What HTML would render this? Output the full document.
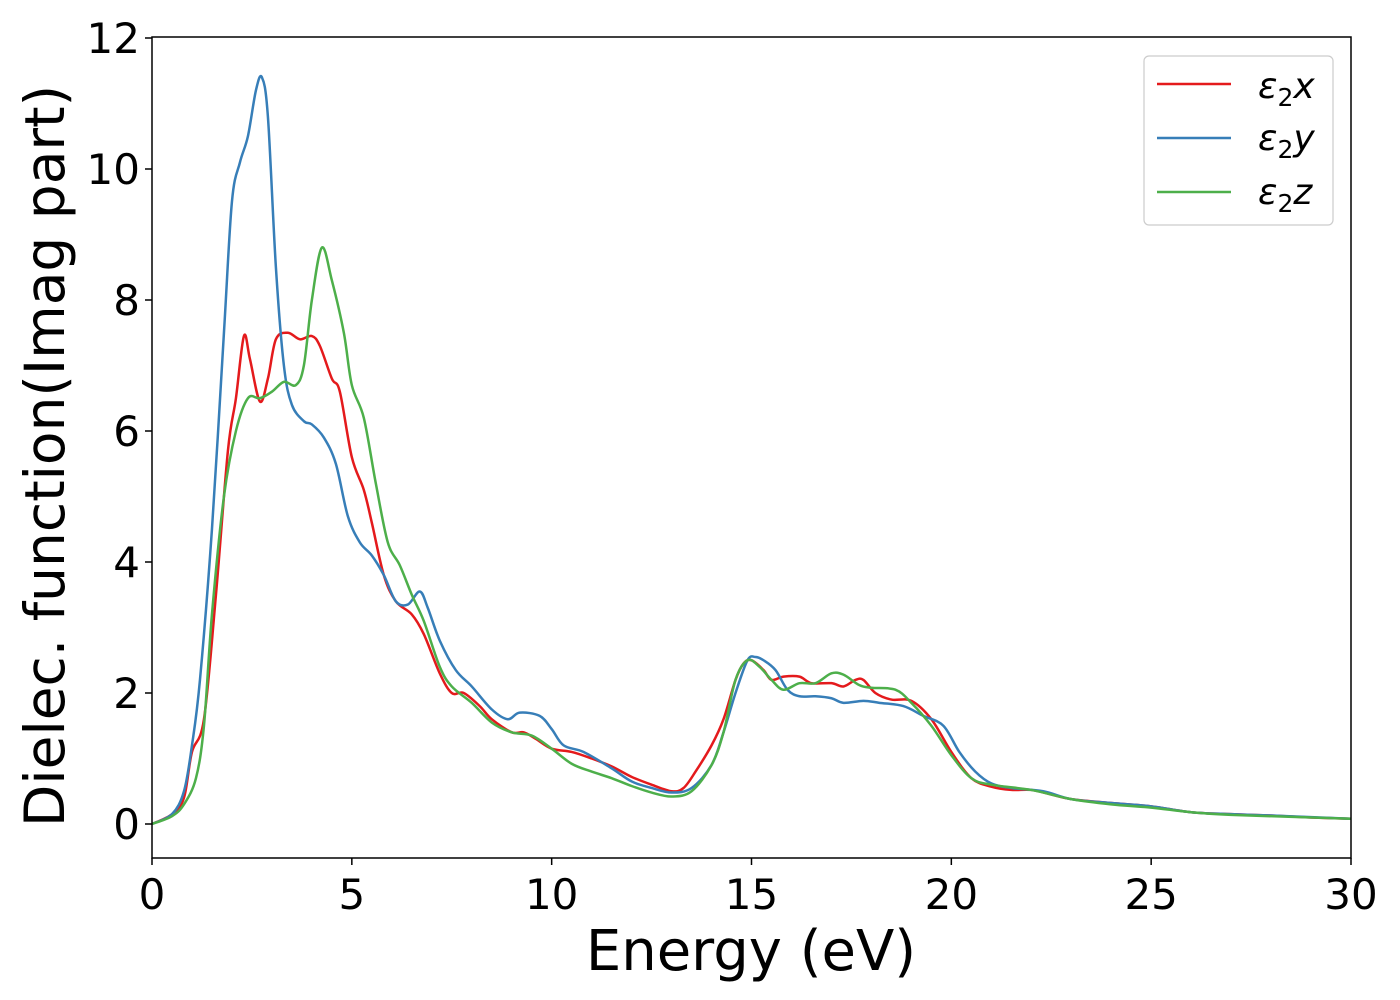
<!DOCTYPE html>
<html><head><meta charset="utf-8">
<style>
html,body{margin:0;padding:0;background:#fff;}
svg{display:block;font-family:"DejaVu Sans","Liberation Sans",sans-serif;}
</style></head>
<body>
<svg id="chart" width="1400" height="1000" viewBox="0 0 1400 1000">
<g id="series"></g>
<rect x="152" y="37" width="1199" height="821" fill="none" stroke="#000" stroke-width="1.5"/>
<g id="axes"></g>
<text x="751" y="970" font-size="56" text-anchor="middle">Energy (eV)</text>
<text transform="translate(64,456) rotate(-90)" font-size="55" text-anchor="middle">Dielec. function(Imag part)</text>
<g>
<rect x="1144" y="56" width="189" height="169" rx="5" fill="#fff" stroke="#ccc" stroke-width="1.2"/>
<line x1="1157" y1="84" x2="1231" y2="84" stroke="#e41a1c" stroke-width="2.5"/>
<text x="1258" y="98" font-size="36"><tspan font-style="italic">ε</tspan><tspan font-size="25" dy="8">2</tspan><tspan dy="-8" font-style="italic">x</tspan></text>
<line x1="1157" y1="138" x2="1231" y2="138" stroke="#377eb8" stroke-width="2.5"/>
<text x="1258" y="150" font-size="36"><tspan font-style="italic">ε</tspan><tspan font-size="25" dy="8">2</tspan><tspan dy="-8" font-style="italic">y</tspan></text>
<line x1="1157" y1="192" x2="1231" y2="192" stroke="#4daf4a" stroke-width="2.5"/>
<text x="1258" y="204" font-size="36"><tspan font-style="italic">ε</tspan><tspan font-size="25" dy="8">2</tspan><tspan dy="-8" font-style="italic">z</tspan></text>
</g>
</svg>
<script>
const xTicks=[0,5,10,15,20,25,30];
const yTicks=[0,2,4,6,8,10,12];
const xE=[0,0.5,0.8,1,1.3,1.6,1.9,2.1,2.3,2.45,2.7,2.9,3.1,3.4,3.7,4.0,4.2,4.5,4.7,5.0,5.3,5.5,5.8,6.1,6.5,6.8,7.2,7.5,7.8,8.2,8.5,9,9.3,9.6,10,10.5,11,11.5,12,12.5,13,13.3,13.6,14,14.3,14.6,14.8,15.0,15.3,15.5,15.8,16.2,16.5,17,17.3,17.6,17.8,18.1,18.5,19,19.5,20,20.5,21,21.5,22,22.5,23,24,25,26,27,28,29,30];
const xV=[0,0.15,0.4,1.1,1.6,3.5,5.7,6.5,7.45,7.1,6.45,6.8,7.4,7.5,7.4,7.45,7.3,6.8,6.6,5.6,5.1,4.6,3.8,3.4,3.2,2.9,2.3,2.0,2.0,1.8,1.6,1.4,1.4,1.3,1.15,1.1,1.0,0.88,0.72,0.6,0.5,0.55,0.8,1.2,1.6,2.2,2.45,2.5,2.35,2.2,2.25,2.25,2.15,2.15,2.1,2.2,2.2,2.0,1.9,1.88,1.6,1.1,0.7,0.57,0.52,0.52,0.45,0.38,0.32,0.27,0.18,0.15,0.13,0.1,0.08];
const yE=[0,0.5,0.8,1,1.2,1.5,1.8,2.0,2.2,2.4,2.6,2.75,2.9,3.1,3.3,3.5,3.8,4.0,4.3,4.6,4.9,5.2,5.5,5.8,6.1,6.4,6.7,6.9,7.2,7.6,8,8.5,8.9,9.2,9.7,10,10.3,10.8,11.5,12,12.5,13,13.5,14,14.3,14.6,14.9,15.1,15.3,15.6,15.9,16.2,16.6,17,17.3,17.8,18.2,18.8,19.3,19.8,20.2,20.6,21,21.5,22.3,23,24,25,26,27,28,30];
const yV=[0,0.15,0.5,1.2,2.2,4.5,7.5,9.5,10.1,10.5,11.2,11.4,10.8,8.5,7.0,6.4,6.15,6.1,5.9,5.5,4.7,4.3,4.1,3.8,3.4,3.35,3.55,3.3,2.8,2.35,2.1,1.75,1.6,1.7,1.65,1.45,1.2,1.1,0.85,0.65,0.55,0.48,0.55,0.9,1.4,2.0,2.5,2.55,2.5,2.35,2.05,1.95,1.95,1.92,1.85,1.88,1.85,1.8,1.65,1.5,1.1,0.8,0.62,0.55,0.5,0.38,0.32,0.27,0.18,0.15,0.13,0.08];
const zE=[0,0.5,0.8,1.1,1.3,1.5,1.8,2.1,2.4,2.7,3.0,3.3,3.6,3.8,4.0,4.25,4.5,4.8,5.0,5.3,5.6,5.9,6.2,6.5,6.8,7.2,7.5,8,8.5,9,9.5,10,10.5,11,11.5,12,12.5,13,13.5,14,14.3,14.6,14.9,15.2,15.5,15.8,16.2,16.6,17,17.3,17.7,18,18.6,19,19.5,20,20.5,21,22,23,24,25,26,27,30];
const zV=[0,0.12,0.3,0.7,1.5,3.2,5.0,6.0,6.5,6.5,6.6,6.75,6.7,7.0,8.0,8.8,8.3,7.5,6.7,6.2,5.2,4.3,3.95,3.5,3.1,2.4,2.1,1.85,1.55,1.4,1.35,1.15,0.92,0.8,0.7,0.58,0.48,0.42,0.5,0.9,1.4,2.2,2.5,2.4,2.2,2.05,2.15,2.15,2.3,2.28,2.12,2.08,2.05,1.85,1.5,1.05,0.7,0.6,0.52,0.38,0.3,0.25,0.18,0.14,0.08];

const NS="http://www.w3.org/2000/svg";
const X0=152,X1=1351,Y0=824,PPU=65.5;
function sx(v){return X0+(X1-X0)*v/30;}
function sy(v){return Y0-v*PPU;}
const axes=document.getElementById('axes');
xTicks.forEach(t=>{
  const l=document.createElementNS(NS,'line');
  l.setAttribute('x1',sx(t));l.setAttribute('x2',sx(t));l.setAttribute('y1',858);l.setAttribute('y2',865);
  l.setAttribute('stroke','#000');l.setAttribute('stroke-width','1.5');
  
  
  axes.appendChild(l);
  const tx=document.createElementNS(NS,'text');
  tx.setAttribute('x',sx(t));tx.setAttribute('y',909);tx.setAttribute('font-size','42');tx.setAttribute('text-anchor','middle');
  tx.textContent=t;
  
  
  axes.appendChild(tx);
});
yTicks.forEach(t=>{
  const l=document.createElementNS(NS,'line');
  l.setAttribute('x1',145);l.setAttribute('x2',152);l.setAttribute('y1',sy(t));l.setAttribute('y2',sy(t));
  l.setAttribute('stroke','#000');l.setAttribute('stroke-width','1.5');
  
  
  axes.appendChild(l);
  const tx=document.createElementNS(NS,'text');
  tx.setAttribute('x',140);tx.setAttribute('y',sy(t)+15);tx.setAttribute('font-size','42');tx.setAttribute('text-anchor','end');
  tx.textContent=t;
  
  
  axes.appendChild(tx);
});
function pathFor(E,V){
  const p=E.map((e,i)=>[sx(e),sy(V[i])]);
  let d='M'+p[0][0]+','+p[0][1];
  for(let i=0;i<p.length-1;i++){
    const a=p[Math.max(0,i-1)],b=p[i],c=p[i+1],e=p[Math.min(p.length-1,i+2)];
    const c1x=b[0]+(c[0]-a[0])/6,c1y=b[1]+(c[1]-a[1])/6;
    const c2x=c[0]-(e[0]-b[0])/6,c2y=c[1]-(e[1]-b[1])/6;
    d+=` C${c1x},${c1y} ${c2x},${c2y} ${c[0]},${c[1]}`;
  }
  return d;
}
const ser=document.getElementById('series');
[[xE,xV,'#e41a1c','series-eps2x'],[yE,yV,'#377eb8','series-eps2y'],[zE,zV,'#4daf4a','series-eps2z']].forEach(s=>{
  const p=document.createElementNS(NS,'path');
  p.setAttribute('d',pathFor(s[0],s[1]));
  p.setAttribute('fill','none');p.setAttribute('stroke',s[2]);p.setAttribute('stroke-width','2.5');
  
  
  ser.appendChild(p);
});
</script>
</body></html>
